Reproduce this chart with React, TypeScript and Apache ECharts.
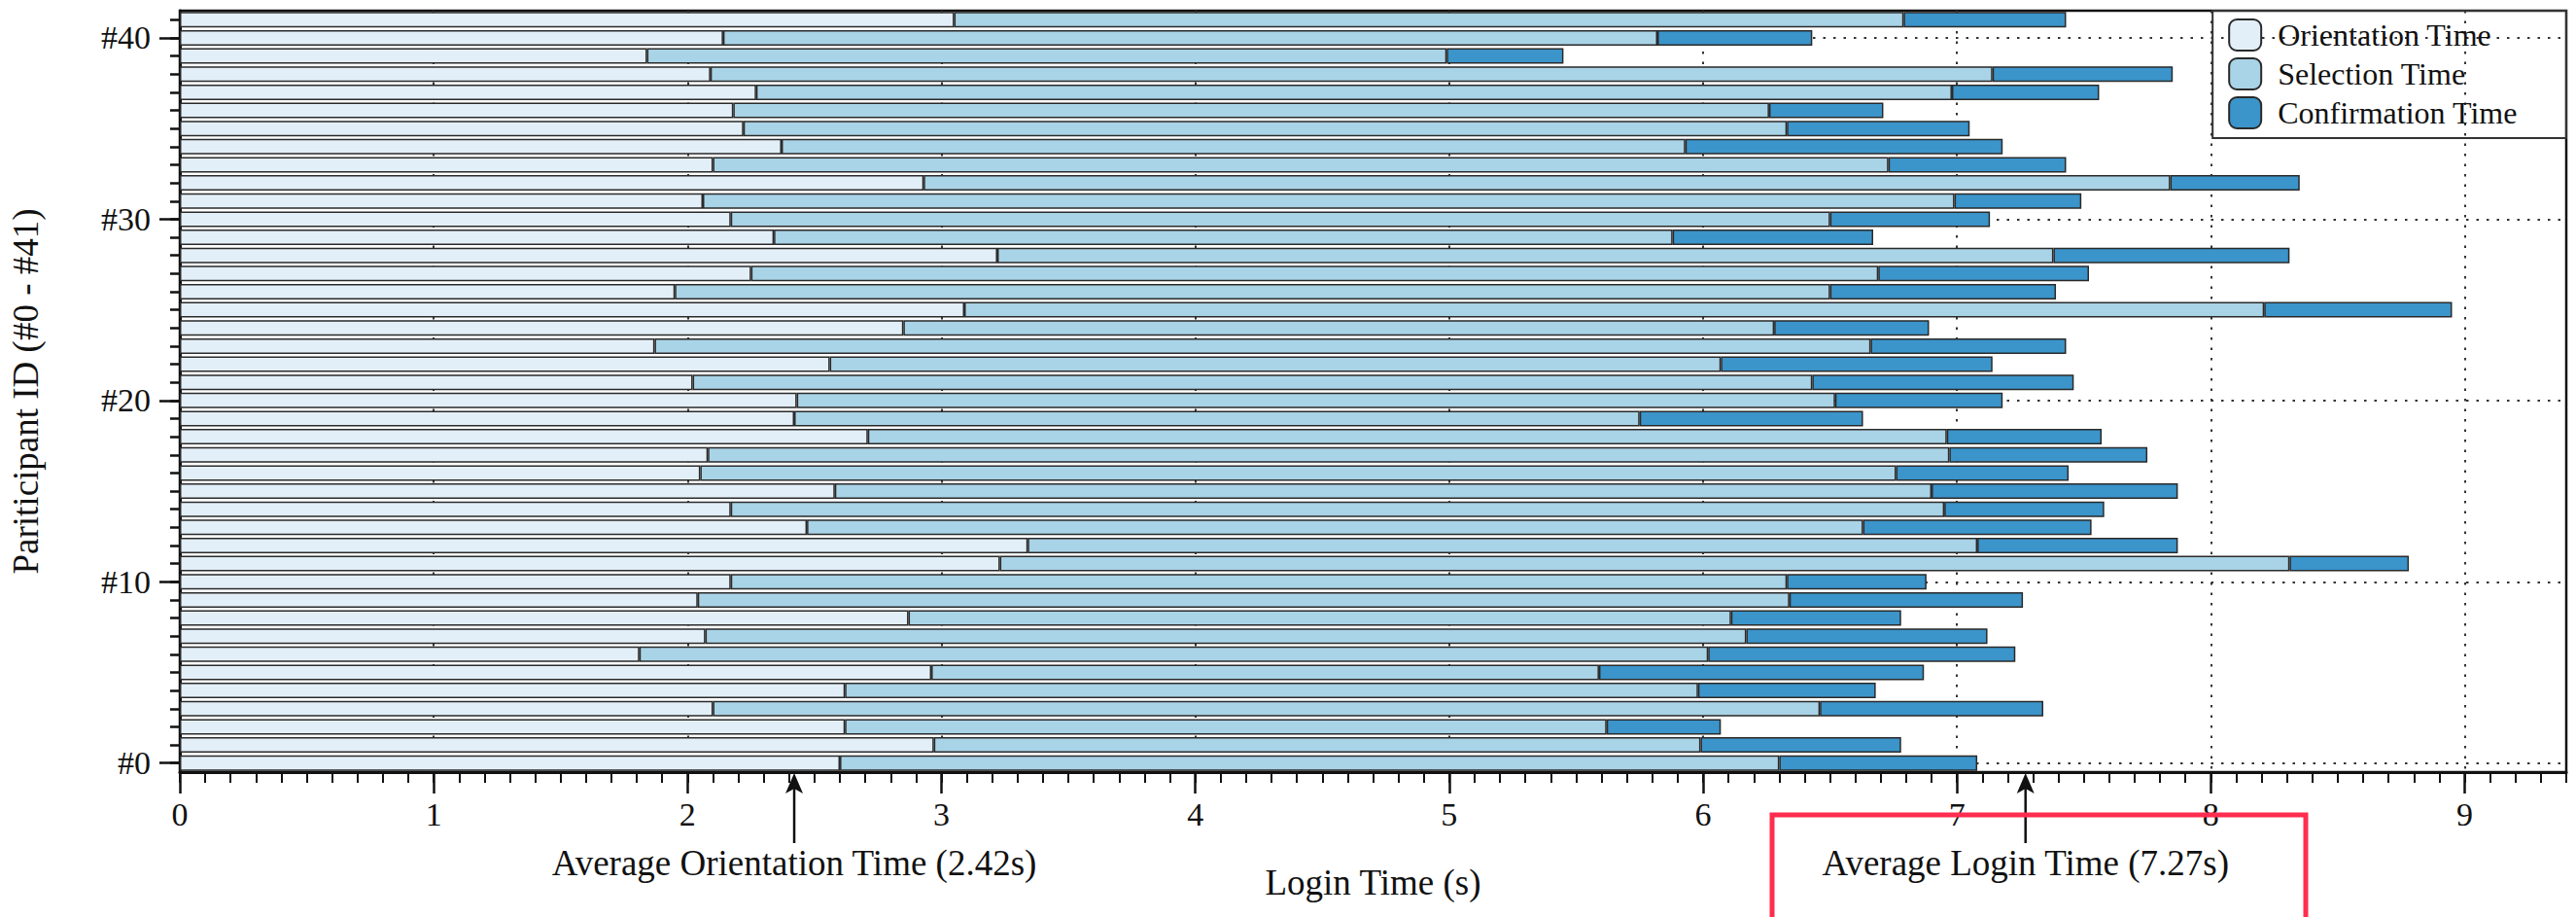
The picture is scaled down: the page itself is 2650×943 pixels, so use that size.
import React, { useEffect, useRef } from "react";
import * as echarts from "echarts";

const participants = [
  "#0", "#1", "#2", "#3", "#4", "#5", "#6", "#7", "#8", "#9",
  "#10", "#11", "#12", "#13", "#14", "#15", "#16", "#17", "#18", "#19",
  "#20", "#21", "#22", "#23", "#24", "#25", "#26", "#27", "#28", "#29",
  "#30", "#31", "#32", "#33", "#34", "#35", "#36", "#37", "#38", "#39",
  "#40", "#41",
];

// seconds, participant #0 .. #41
const orientationTime = [
  2.60, 2.97, 2.62, 2.10, 2.62, 2.96, 1.81, 2.07, 2.87, 2.04,
  2.17, 3.23, 3.34, 2.47, 2.17, 2.58, 2.05, 2.08, 2.71, 2.42,
  2.43, 2.02, 2.56, 1.87, 2.85, 3.09, 1.95, 2.25, 3.22, 2.34,
  2.17, 2.06, 2.93, 2.10, 2.37, 2.22, 2.18, 2.27, 2.09, 1.84,
  2.14, 3.05,
];
const selectionTime = [
  3.70, 3.02, 3.00, 4.36, 3.36, 2.63, 4.21, 4.10, 3.24, 4.30,
  4.16, 5.08, 3.74, 4.16, 4.78, 4.32, 4.71, 4.89, 4.25, 3.33,
  4.09, 4.41, 3.51, 4.79, 3.43, 5.12, 4.55, 4.44, 4.16, 3.54,
  4.33, 4.93, 4.91, 4.63, 3.56, 4.11, 4.08, 4.71, 5.05, 3.15,
  3.68, 3.74,
];
const confirmationTime = [
  0.78, 0.79, 0.45, 0.88, 0.70, 1.28, 1.21, 0.95, 0.67, 0.92,
  0.55, 0.47, 0.79, 0.90, 0.63, 0.97, 0.68, 0.78, 0.61, 0.88,
  0.66, 1.03, 1.07, 0.77, 0.61, 0.74, 0.89, 0.83, 0.93, 0.79,
  0.63, 0.50, 0.51, 0.70, 1.25, 0.72, 0.45, 0.58, 0.71, 0.46,
  0.61, 0.64,
];

const xTickValues = [0, 1, 2, 3, 4, 5, 6, 7, 8, 9];
const gridLineParticipants = ["#0", "#10", "#20", "#30", "#40"];
const averageOrientation = 2.42;
const averageLogin = 7.27;

const FONT = "'Liberation Serif', 'Times New Roman', serif";
const INK = "#111";
const DOT: number[] = [2.5, 8];

export default function App() {
  const ref = useRef<HTMLDivElement>(null);

  useEffect(() => {
    if (!ref.current) return;
    const chart = echarts.init(ref.current, undefined, { renderer: "svg" });

    const barStyle = (color: string) => ({
      color,
      borderColor: "#2a2a2a",
      borderWidth: 1.5,
    });

    chart.setOption({
      animation: false,
      backgroundColor: "#ffffff",
      textStyle: { fontFamily: FONT, color: INK },
      grid: {
        left: 181,
        right: 10,
        top: 11,
        bottom: 149,
        show: true,
        borderColor: INK,
        borderWidth: 2.5,
        backgroundColor: "transparent",
      },
      legend: {
        orient: "vertical",
        right: 10,
        top: 11,
        itemWidth: 33,
        itemHeight: 32,
        itemGap: 6,
        icon: "roundRect",
        borderColor: "#333",
        borderWidth: 2,
        padding: [8, 50, 9, 16],
        backgroundColor: "transparent",
        textStyle: {
          fontFamily: FONT,
          fontSize: 32,
          color: INK,
          padding: [0, 0, 0, 12],
        },
        data: ["Orientation Time", "Selection Time", "Confirmation Time"],
      },
      xAxis: [
        {
          type: "value",
          min: 0,
          max: 9.4,
          interval: 1,
          position: "bottom",
          name: "Login Time (s)",
          nameLocation: "middle",
          nameGap: 95,
          nameTextStyle: { fontFamily: FONT, fontSize: 37, color: INK },
          axisLine: { show: true, lineStyle: { color: INK, width: 3 } },
          axisTick: {
            show: true,
            customValues: xTickValues,
            length: 22,
            lineStyle: { color: INK, width: 2.5 },
          },
          axisLabel: {
            customValues: xTickValues,
            fontFamily: FONT,
            fontSize: 34,
            color: INK,
            margin: 26,
          },
          splitLine: {
            show: true,
            lineStyle: { type: DOT, color: "#333", width: 2 },
          },
        },
        {
          type: "value",
          min: 0,
          max: 9.4,
          interval: 0.1,
          position: "bottom",
          axisLine: { show: false },
          axisTick: { show: true, length: 11, lineStyle: { color: INK, width: 2 } },
          axisLabel: { show: false },
          splitLine: { show: false },
        },
      ],
      yAxis: [
        {
          type: "category",
          data: participants,
          position: "left",
          name: "Pariticipant ID (#0 - #41)",
          nameLocation: "middle",
          nameGap: 140,
          nameTextStyle: { fontFamily: FONT, fontSize: 37, color: INK },
          axisLine: { show: true, lineStyle: { color: INK, width: 3 } },
          axisTick: {
            show: true,
            alignWithLabel: true,
            interval: 0,
            length: 10,
            lineStyle: { color: INK, width: 2.5 },
          },
          axisLabel: {
            interval: (i: number) => i % 10 === 0,
            fontFamily: FONT,
            fontSize: 34,
            color: INK,
            margin: 30,
          },
          splitLine: { show: false },
        },
        {
          type: "category",
          data: participants,
          position: "left",
          axisLine: { show: false },
          axisTick: {
            show: true,
            alignWithLabel: true,
            interval: (i: number) => i % 10 === 0,
            length: 21,
            lineStyle: { color: INK, width: 2.5 },
          },
          axisLabel: { show: false },
          splitLine: { show: false },
        },
      ],
      series: [
        {
          name: "Orientation Time",
          type: "bar",
          stack: "login",
          barCategoryGap: "14%",
          itemStyle: barStyle("#e3eff8"),
          data: orientationTime,
          markLine: {
            z: 1,
            silent: true,
            symbol: "none",
            label: { show: false },
            lineStyle: { type: DOT, color: "#333", width: 2 },
            data: gridLineParticipants.map((p) => ({ yAxis: p })),
          },
        },
        {
          name: "Selection Time",
          type: "bar",
          stack: "login",
          barCategoryGap: "14%",
          itemStyle: barStyle("#a9d3e6"),
          data: selectionTime,
        },
        {
          name: "Confirmation Time",
          type: "bar",
          stack: "login",
          barCategoryGap: "14%",
          itemStyle: barStyle("#3b94ca"),
          data: confirmationTime,
        },
      ],
    });

    const axisY = 943 - 149;
    const annotations = [
      { value: averageOrientation, text: `Average Orientation Time (${averageOrientation.toFixed(2)}s)` },
      { value: averageLogin, text: `Average Login Time (${averageLogin.toFixed(2)}s)` },
    ];
    const elements: any[] = [];
    annotations.forEach((a) => {
      const x = chart.convertToPixel({ xAxisIndex: 0 }, a.value) as number;
      elements.push({
        type: "line",
        shape: { x1: x, y1: 867, x2: x, y2: axisY + 14 },
        style: { stroke: INK, lineWidth: 2.5 },
      });
      elements.push({
        type: "polygon",
        shape: {
          points: [
            [x, axisY + 1],
            [x - 9, axisY + 22],
            [x, axisY + 17],
            [x + 9, axisY + 22],
          ],
        },
        style: { fill: INK },
      });
      elements.push({
        type: "text",
        x,
        y: 887,
        style: {
          text: a.text,
          fontFamily: FONT,
          fontSize: 37,
          fill: INK,
          align: "center",
          verticalAlign: "middle",
        },
      });
    });
    elements.push({
      type: "rect",
      shape: { x: 1823, y: 838, width: 549, height: 200 },
      style: { fill: "none", stroke: "#ff2d4f", lineWidth: 5 },
      z: 100,
    });
    chart.setOption({ graphic: { elements } });

    return () => {
      chart.dispose();
    };
  }, []);

  return (
    <div
      ref={ref}
      style={{
        position: "fixed",
        left: 0,
        top: 0,
        width: 2650,
        height: 943,
        background: "#ffffff",
      }}
    />
  );
}
